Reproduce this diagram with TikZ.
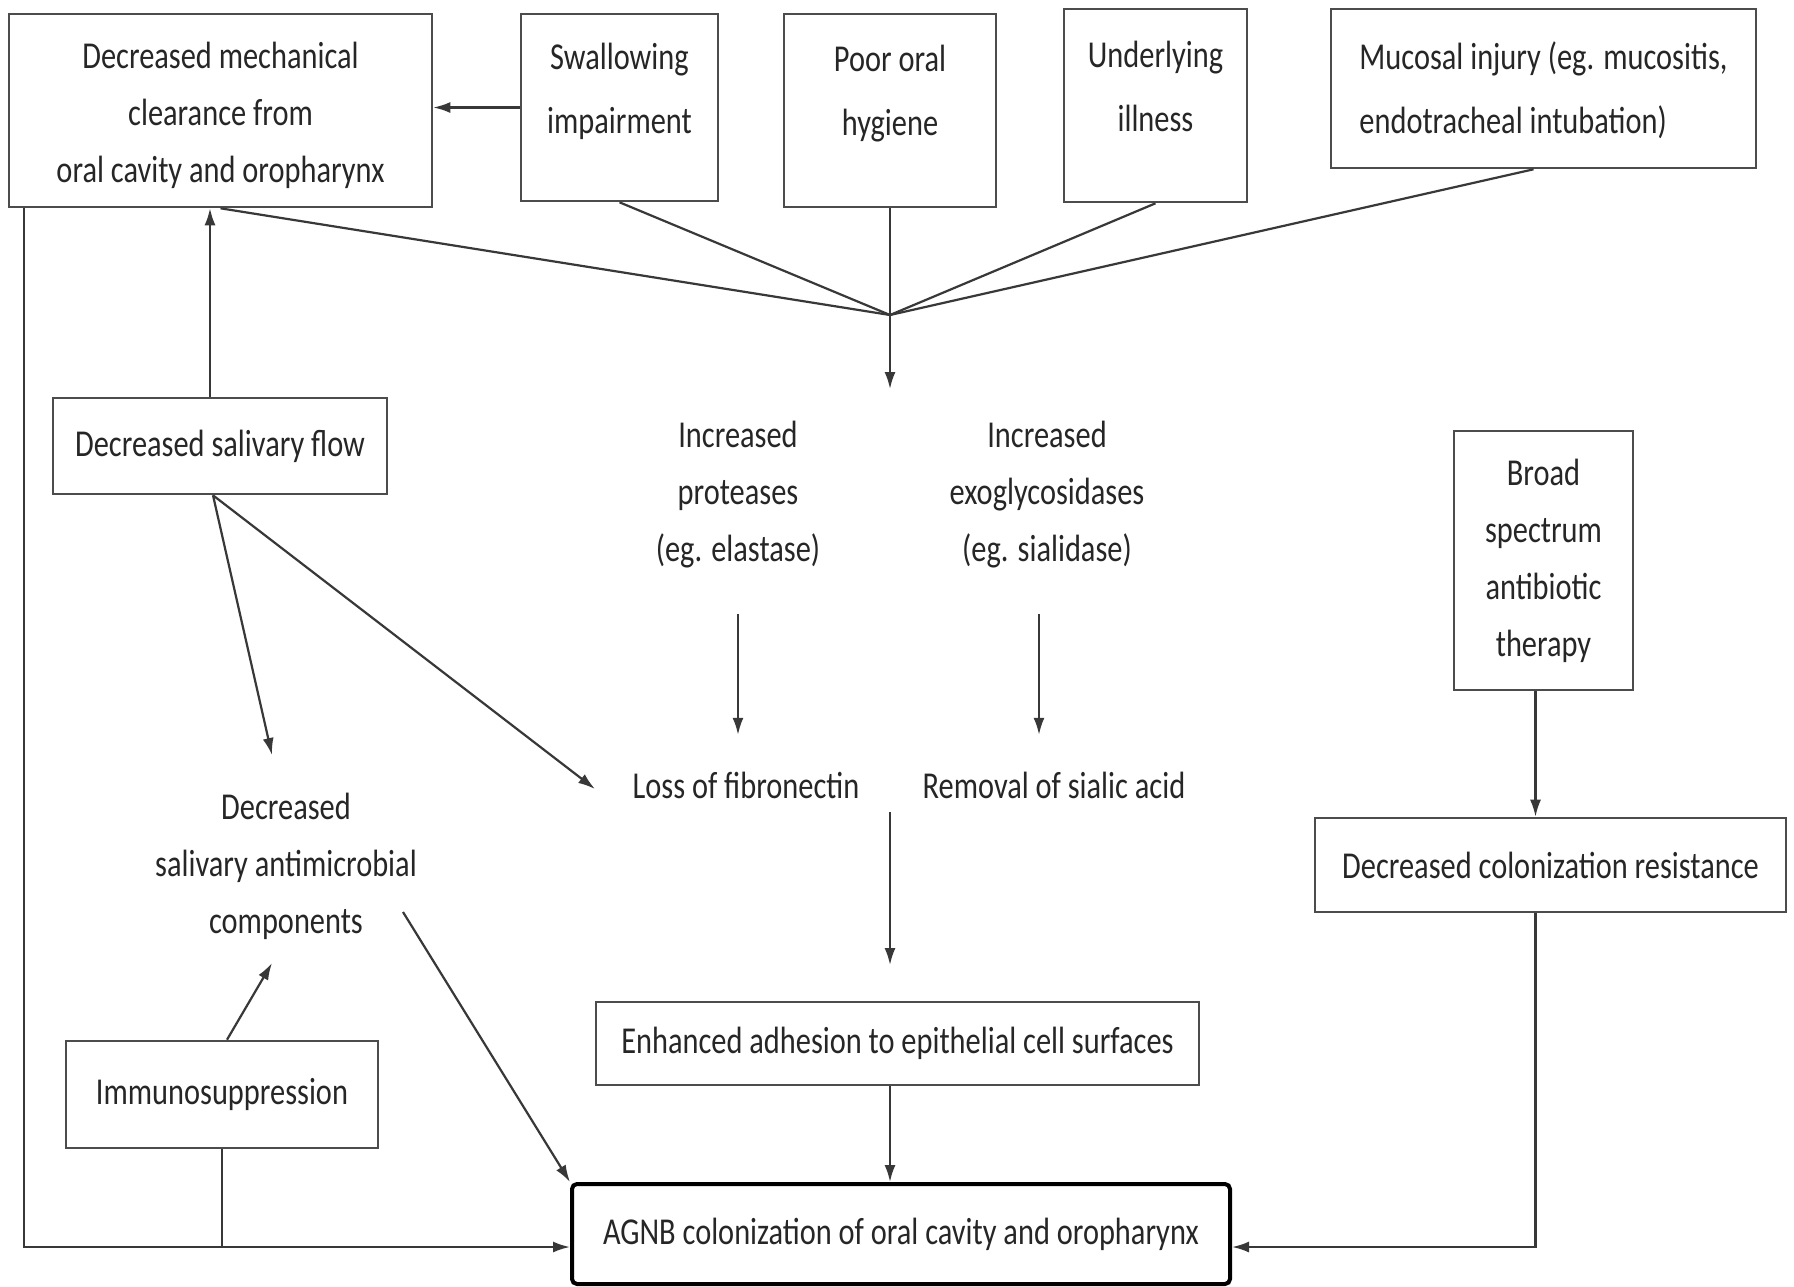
\documentclass[tikz,border=0pt]{standalone}
\usepackage{fontspec}
\setmainfont{Carlito}[FakeStretch=0.8]
\usetikzlibrary{arrows.meta,calc}
\newcommand{\twoup}[2]{\raisebox{#1}[0pt][0pt]{\fontsize{38}{64}\selectfont\begin{tabular}{@{}c@{}}#2\end{tabular}}}
\newcommand{\threeup}[2]{\raisebox{#1}[0pt][0pt]{\fontsize{38}{57}\selectfont\begin{tabular}{@{}c@{}}#2\end{tabular}}}
\newcommand{\twoleft}[1]{{\fontsize{38}{64}\selectfont\begin{tabular}{@{}l@{}}#1\end{tabular}}}
\begin{document}
\begin{tikzpicture}[x=1pt,y=-1pt,
 every node/.style={font=\fontsize{38}{57}\selectfont, text=black!85, inner sep=0pt},
 box/.style={draw=black!70, line width=2.6pt},
 conn/.style={draw=black!78, line width=2.2pt},
 arr/.style={conn, -{Latex[length=17pt,width=11pt]}},
 txt/.style={align=center}]
\useasboundingbox[fill=white] (0,0) rectangle (1794,1286);

% top row
\node[box, minimum width=423pt, minimum height=193pt] (mech) at (220.5,110.5) {\threeup{-10pt}{Decreased mechanical\\clearance from\\oral cavity and oropharynx}};
\node[box, minimum width=197pt, minimum height=187pt] (swal) at (619.5,107.5) {\twoup{12.5pt}{Swallowing\\impairment}};
\node[box, minimum width=212pt, minimum height=193pt] (poor) at (890,110.5) {\twoup{13.5pt}{Poor oral\\hygiene}};
\node[box, minimum width=183pt, minimum height=193pt] (under) at (1155.5,105.5) {\twoup{13pt}{Underlying\\illness}};
\node[box, minimum width=425pt, minimum height=159pt] (mucosal) at (1543.5,88.5) {\twoleft{Mucosal injury (eg. mucositis,\\endotracheal intubation)}\hspace{14pt}};

% middle
\node[box, minimum width=334pt, minimum height=96pt] (salflow) at (220,446) {Decreased salivary flow};
\node[txt, minimum height=238pt] (prot) at (738,495) {Increased\\proteases\\(eg. elastase)};
\node[txt, minimum height=238pt] (exo) at (1047,495) {Increased\\exoglycosidases\\(eg. sialidase)};
\node[minimum height=100pt] (fib) at (746,785) {Loss of fibronectin};
\node[minimum height=100pt] (sial) at (1054,785) {Removal of sialic acid};
\node[box, minimum width=179pt, minimum height=259pt, align=center] (broad) at (1543.5,560.5) {Broad\\spectrum\\antibiotic\\therapy};
\node[box, minimum width=471pt, minimum height=94pt] (colres) at (1550.5,865) {Decreased colonization resistance};
\node[txt] (antimic) at (286,866) {Decreased\\salivary antimicrobial\\components};
\node[box, minimum width=312pt, minimum height=107pt] (immuno) at (222,1094.5) {Immunosuppression};
\node[box, minimum width=603pt, minimum height=83pt] (enh) at (897.5,1043.5) {Enhanced adhesion to epithelial cell surfaces};
\node[draw=black, line width=4pt, rounded corners=5pt, minimum width=658pt, minimum height=100pt] (agnb) at (901,1234) {AGNB colonization of oral cavity and oropharynx};

% coordinates
\coordinate (M) at (890,315);
\coordinate (Mend) at (890,389);
\coordinate (sf) at ([xshift=-7pt]salflow.south);
\coordinate (antitip) at (272,755);
\coordinate (fibtip) at (595,789);
\coordinate (c1) at (890,812);
\coordinate (c2) at (890,965);
\coordinate (am) at (403,912);
\coordinate (imtip) at (272,963);
\coordinate (ain) at ([yshift=-13pt]agnb.west);
\coordinate (aout) at ([yshift=-13pt]agnb.east);

% connectors
\draw[conn] (mech.south) -- (M);
\draw[conn] (swal.south) -- (M);
\draw[conn] (poor.south) -- (M);
\draw[conn] (under.south) -- (M);
\draw[conn] ([xshift=-10pt]mucosal.south) -- (M);
\draw[arr] (M) -- (Mend);
\draw[arr] (swal.west) -- (swal.west -| mech.east);
\draw[arr] ([xshift=-10pt]salflow.north) -- ([xshift=-10pt]salflow.north |- mech.south);
\draw[arr] (sf) -- (antitip);
\draw[arr] (sf) -- (fibtip);
\draw[arr] (prot.south) -- (prot.south |- fib.north);
\draw[arr] ([xshift=-8pt]exo.south) -- ([xshift=-8pt]exo.south |- sial.north);
\draw[arr] (c1) -- (c2);
\draw[arr] (enh.south -| c1) -- (agnb.north -| c1);
\draw[arr] (am) -- (agnb.north west);
\draw[arr] ([xshift=5pt]immuno.north) -- (imtip);
\draw[arr] ([xshift=16pt]mech.south west) |- (ain);
\draw[conn] (immuno.south) -- (immuno.south |- ain);
\draw[arr] ([xshift=-8pt]broad.south) -- ([xshift=-8pt]broad.south |- colres.north);
\draw[arr] ([xshift=-15pt]colres.south) |- (aout);
\end{tikzpicture}
\end{document}
